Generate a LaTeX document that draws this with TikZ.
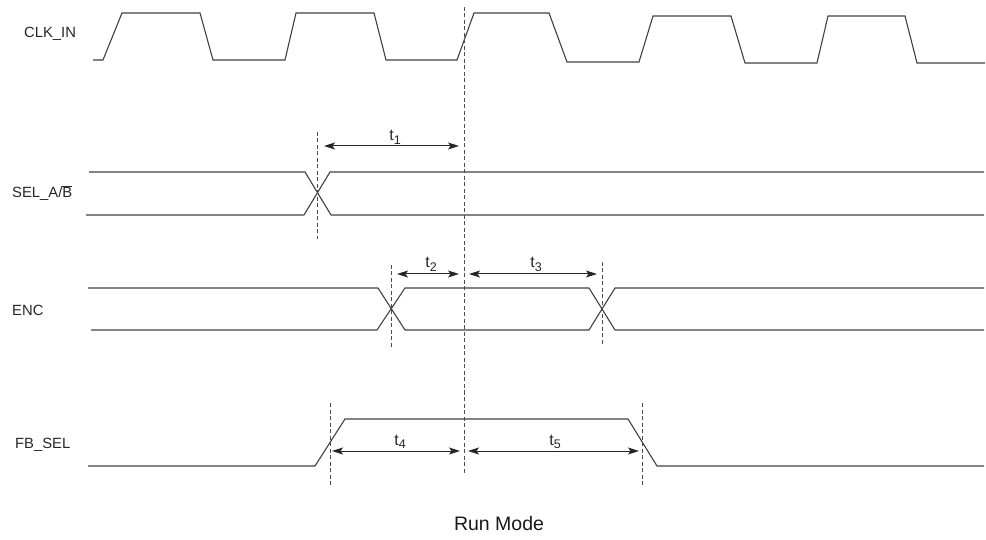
\documentclass[tikz,border=0pt]{standalone}
\usepackage{fontspec}
\setmainfont{Liberation Sans}
\usetikzlibrary{arrows.meta}
\newcommand{\tsub}[1]{t\raisebox{-3.5pt}{\fontsize{12.5}{13}\selectfont #1}}
\begin{document}
\begin{tikzpicture}[x=1pt,y=-1pt,
  sig/.style={line width=1.1pt, draw=black!75, line join=miter},
  guide/.style={line width=0.9pt, draw=black!70, dash pattern=on 4pt off 2.5pt},
  dim/.style={line width=1pt, draw=black!85,
    {Stealth[length=11pt,width=7pt,inset=2.5pt]}-{Stealth[length=11pt,width=7pt,inset=2.5pt]}},
  lbl/.style={inner sep=0pt, font=\fontsize{14.8}{17}\selectfont, text=black!85, anchor=base west},
  tlbl/.style={inner sep=0pt, font=\fontsize{16}{18}\selectfont, text=black!85, anchor=base}]
\useasboundingbox (0,0) rectangle (986,540);

% signal labels
\node[lbl] (clk) at (24,38) {CLK\_IN};
\node[lbl] (sel) at (12,198) {SEL\_A/$\overline{\mbox{B}}$};
\node[lbl] (enc) at (12,316) {ENC};
\node[lbl] (fb)  at (15,448) {FB\_SEL};
\node[inner sep=0pt, anchor=base, font=\fontsize{19.5}{22}\selectfont, text=black!90] (mode) at (499,530) {Run Mode};

% CLK_IN
\draw[sig] (93,60) -- (103,60) -- (122,13) -- (200,13) -- (213,60) -- (285,60) -- (296,13)
  -- (374,13) -- (386,60) -- (457,60) -- (474,13) -- (549,13) -- (567,62) -- (639,62)
  -- (653,16) -- (731,16) -- (745,63) -- (817,63) -- (828,16) -- (905,16) -- (917,63) -- (985,63);

% SEL_A/B
\draw[sig] (89,172) -- (305,172) -- (331,215) -- (984,215);
\draw[sig] (86,215) -- (304,215) -- (330,172) -- (984,172);

% ENC
\draw[sig] (88,288) -- (378,288) -- (405,330) -- (589,330) -- (615,288) -- (984,288);
\draw[sig] (91,330) -- (377,330) -- (405,288) -- (589,288) -- (615,330) -- (984,330);

% FB_SEL
\draw[sig] (88,466) -- (315,466) -- (345,419) -- (628,419) -- (657,466) -- (984,466);

% guide lines
\coordinate (mT) at (464,7);   \coordinate (mB) at (464,473);
\coordinate (sT) at (317,132); \coordinate (sB) at (317,239);
\coordinate (e1T) at (391,265); \coordinate (e1B) at (391,349);
\coordinate (e2T) at (602,262); \coordinate (e2B) at (602,346);
\coordinate (f1T) at (330,403); \coordinate (f1B) at (330,487);
\coordinate (f2T) at (642,403); \coordinate (f2B) at (642,487);
\draw[guide] (mT) -- (mB);
\draw[guide] (sT) -- (sB);
\draw[guide] (e1T) -- (e1B);
\draw[guide] (e2T) -- (e2B);
\draw[guide] (f1T) -- (f1B);
\draw[guide] (f2T) -- (f2B);

% dimension arrows
\draw[dim] ([xshift=7pt]sT |- 0,146) -- ([xshift=-5pt]mT |- 0,146);
\draw[dim] ([xshift=6pt]e1T |- 0,274) -- ([xshift=-5pt]mT |- 0,274);
\draw[dim] ([xshift=5pt]mT |- 0,274) -- ([xshift=-5pt]e2T |- 0,274);
\draw[dim] ([xshift=2pt]f1T |- 0,451) -- ([xshift=-4pt]mT |- 0,451);
\draw[dim] ([xshift=4pt]mT |- 0,451) -- ([xshift=-3pt]f2T |- 0,451);

% time labels
\node[tlbl] (t1) at (395,141) {\tsub{1}};
\node[tlbl] (t2) at (431,268) {\tsub{2}};
\node[tlbl] (t3) at (536,268) {\tsub{3}};
\node[tlbl] (t4) at (400,445) {\tsub{4}};
\node[tlbl] (t5) at (555,445) {\tsub{5}};
\end{tikzpicture}
\end{document}
